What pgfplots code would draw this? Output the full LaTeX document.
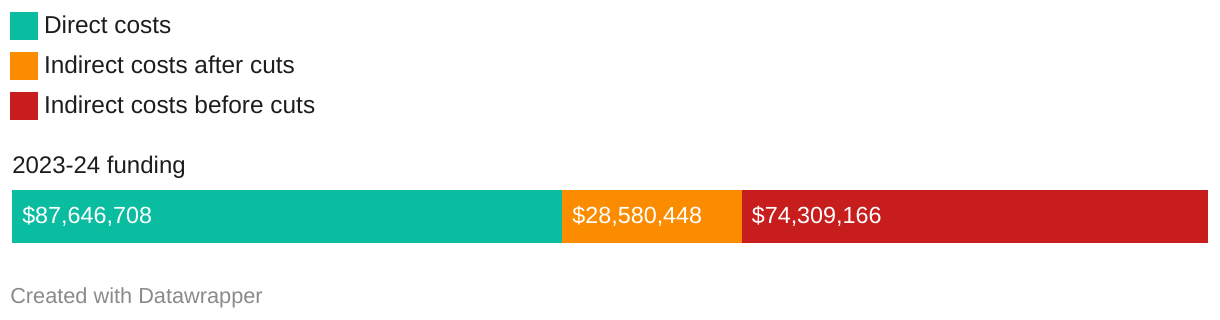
\documentclass[border=0pt]{standalone}
\usepackage{fontspec}
\setmainfont{Liberation Sans}
\usepackage{pgfplots}
\pgfplotsset{compat=1.18}
\definecolor{cDirect}{HTML}{0ABDA0}
\definecolor{cAfter}{HTML}{FB8C00}
\definecolor{cBefore}{HTML}{C71E1D}
\definecolor{txt}{HTML}{1D1D1D}
\definecolor{credit}{HTML}{8A8A8A}
\begin{document}
\begin{tikzpicture}
\useasboundingbox (0,0) rectangle (915pt,240pt);
\begin{axis}[
  name=ax,
  at={(9pt,57.75pt)}, anchor=south west,
  scale only axis, width=897pt, height=39.75pt,
  xbar stacked, bar width=39.75pt,
  xmin=0, xmax=190536322, ymin=-0.5, ymax=0.5,
  hide axis,
  every axis plot/.append style={draw=none},
  legend style={at={(axis description cs:0,1)}, anchor=north west, xshift=-1.5pt, yshift=133.5pt,
    draw=none, fill=none, inner sep=0pt, outer sep=0pt, row sep=8.9pt, column sep=0pt,
    nodes={inner sep=0pt, text=txt, font=\fontsize{18.3pt}{22pt}\selectfont}},
  legend cell align=left,
  legend image code/.code={\fill[#1] (0pt,-10.5pt) rectangle (21pt,10.5pt); \path (25.5pt,0pt);},
]
\addplot[fill=cDirect] coordinates {(87646708,0)};
\addlegendentry{Direct costs}
\addplot[fill=cAfter] coordinates {(28580448,0)};
\addlegendentry{Indirect costs after cuts}
\addplot[fill=cBefore] coordinates {(74309166,0)};
\addlegendentry{Indirect costs before cuts}
\coordinate (l1) at (axis cs:0,0);
\coordinate (l2) at (axis cs:87646708,0);
\coordinate (l3) at (axis cs:116227156,0);
\end{axis}
\begin{scope}[every node/.style={anchor=base west, inner sep=0pt, xshift=7.5pt, yshift=-5.1pt, text=white, font=\fontsize{17.5pt}{21pt}\selectfont}]
\node at (l1) {\$87,646,708};
\node at (l2) {\$28,580,448};
\node at (l3) {\$74,309,166};
\end{scope}
\node[anchor=base west, inner sep=0pt, text=txt, font=\fontsize{18pt}{22pt}\selectfont, yshift=12pt] at (ax.north west) {2023-24 funding};
\node[anchor=base west, inner sep=0pt, text=credit, font=\fontsize{16.3pt}{19pt}\selectfont, xshift=-1.5pt, yshift=-45.75pt] at (ax.south west) {Created with Datawrapper};
\end{tikzpicture}
\end{document}
